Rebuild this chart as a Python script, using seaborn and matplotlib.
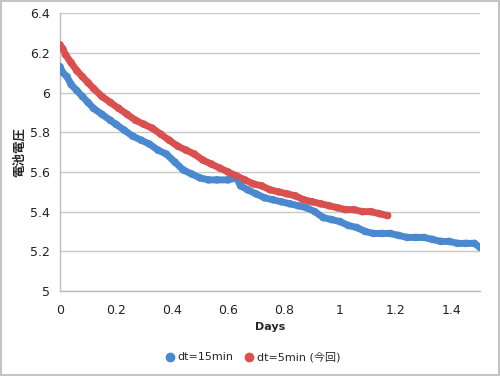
import matplotlib
matplotlib.use("Agg")
import matplotlib.pyplot as plt
import seaborn as sns
import pandas as pd
from matplotlib.patches import Rectangle

# Data
blue_x = [0.00, 0.01, 0.025, 0.04, 0.06, 0.08, 0.10, 0.12, 0.15, 0.18, 0.20, 0.23, 0.26, 0.29,
          0.32, 0.35, 0.38, 0.41, 0.44, 0.47, 0.50, 0.53, 0.56, 0.60, 0.63, 0.645, 0.67, 0.70,
          0.73, 0.76, 0.79, 0.82, 0.85, 0.88, 0.91, 0.94, 0.97, 1.00, 1.03, 1.06, 1.09, 1.12,
          1.15, 1.18, 1.21, 1.24, 1.27, 1.30, 1.33, 1.36, 1.39, 1.42, 1.45, 1.48, 1.50]
blue_y = [6.13, 6.10, 6.08, 6.04, 6.01, 5.98, 5.95, 5.92, 5.89, 5.86, 5.84, 5.81, 5.78, 5.76,
          5.74, 5.71, 5.69, 5.65, 5.61, 5.59, 5.57, 5.56, 5.56, 5.56, 5.57, 5.53, 5.51, 5.49,
          5.47, 5.46, 5.45, 5.44, 5.43, 5.42, 5.40, 5.37, 5.36, 5.35, 5.33, 5.32, 5.30, 5.29,
          5.29, 5.29, 5.28, 5.27, 5.27, 5.27, 5.26, 5.25, 5.25, 5.24, 5.24, 5.24, 5.22]
red_x = [0.00, 0.01, 0.02, 0.04, 0.06, 0.08, 0.10, 0.12, 0.15, 0.18, 0.21, 0.24, 0.27, 0.30,
         0.33, 0.36, 0.39, 0.42, 0.45, 0.48, 0.51, 0.54, 0.57, 0.60, 0.63, 0.66, 0.69, 0.72,
         0.75, 0.78, 0.81, 0.84, 0.87, 0.90, 0.93, 0.96, 0.99, 1.02, 1.05, 1.08, 1.11, 1.14, 1.17]
red_y = [6.24, 6.22, 6.19, 6.15, 6.11, 6.08, 6.05, 6.02, 5.98, 5.95, 5.92, 5.89, 5.86, 5.84,
         5.82, 5.79, 5.76, 5.73, 5.71, 5.69, 5.66, 5.64, 5.62, 5.60, 5.58, 5.56, 5.54, 5.53,
         5.51, 5.50, 5.49, 5.48, 5.46, 5.45, 5.44, 5.43, 5.42, 5.41, 5.41, 5.40, 5.40, 5.39, 5.38]
series_names = ["dt=15min", "dt=5min (今回)"]
x_ticks = [0, 0.2, 0.4, 0.6, 0.8, 1, 1.2, 1.4]
y_ticks = [5, 5.2, 5.4, 5.6, 5.8, 6, 6.2, 6.4]

df = pd.concat([
    pd.DataFrame({"Days": blue_x, "V": blue_y, "series": series_names[0]}),
    pd.DataFrame({"Days": red_x, "V": red_y, "series": series_names[1]}),
], ignore_index=True)

sns.set_style("white")
plt.rcParams["font.family"] = ["DejaVu Sans", "Noto Sans CJK JP"]

colors = {series_names[0]: "#4a89d0", series_names[1]: "#d9504f"}

fig = plt.figure(figsize=(5, 3.76), dpi=100)
ax = fig.add_axes([0.12, 0.226, 0.84, 0.739])

for name in series_names:
    sub = df[df.series == name]
    sns.lineplot(data=sub, x="Days", y="V", ax=ax, color=colors[name], lw=5,
                 solid_capstyle="round", sort=False, estimator=None, legend=False)
    sns.scatterplot(data=sub, x="Days", y="V", ax=ax, color=colors[name], s=30,
                    edgecolor="none", legend=False, zorder=3)

ax.set_xlim(0, 1.5)
ax.set_ylim(5, 6.4)
ax.set_xticks(x_ticks)
ax.set_xticklabels([f"{v:g}" for v in x_ticks])
ax.set_yticks(y_ticks)
ax.set_yticklabels([f"{v:g}" for v in y_ticks])
ax.yaxis.grid(True, color="#c8c8c8", lw=1)
ax.set_axisbelow(True)
for s in ["top", "right"]:
    ax.spines[s].set_visible(False)
for s in ["left", "bottom"]:
    ax.spines[s].set_color("#bdbdbd")
    ax.spines[s].set_linewidth(1)
ax.tick_params(axis="both", which="both", length=4, color="#bdbdbd", labelsize=9,
               labelcolor="#222222", direction="out", width=1)
ax.tick_params(axis="x", pad=5)
ax.set_xlabel("Days", fontsize=8, fontweight="bold", labelpad=4)
ax.set_ylabel("電池電圧", fontsize=9, fontweight="bold",
              family=["Noto Sans CJK JP", "DejaVu Sans"], labelpad=3)

handles = [plt.Line2D([], [], marker="o", ls="", color=colors[n], markersize=6) for n in series_names]
fig.legend(handles, series_names, loc="center", bbox_to_anchor=(0.505, 0.05), ncol=2,
           frameon=False, handletextpad=0.2, columnspacing=0.9, handlelength=1.0,
           prop={"family": ["DejaVu Sans", "Noto Sans CJK JP"], "size": 8})

fig.patches.append(Rectangle((0.002, 0.003), 0.996, 0.994, transform=fig.transFigure,
                             fill=False, edgecolor="#c4c4c4", lw=1.5))
fig.savefig("out.png", dpi=100)
